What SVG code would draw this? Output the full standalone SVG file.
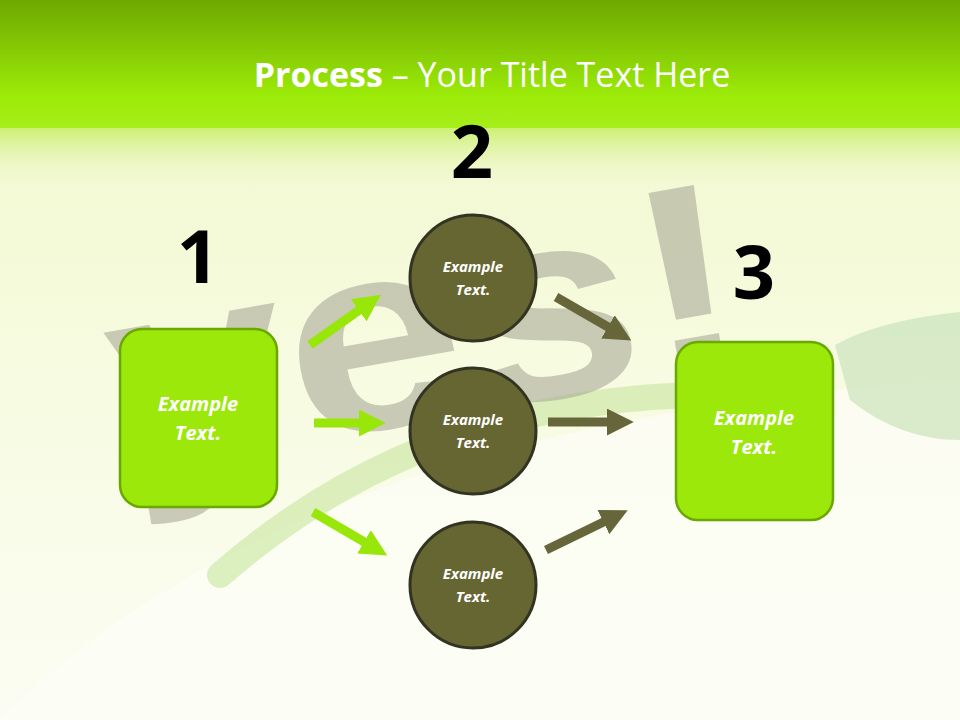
<svg xmlns="http://www.w3.org/2000/svg" width="960" height="720" viewBox="0 0 960 720">
<defs>
<linearGradient id="hdr" x1="0" y1="0" x2="0" y2="1"><stop offset="0" stop-color="#6ea800"/><stop offset="0.75" stop-color="#9ceb08"/><stop offset="1" stop-color="#a6ee1a"/></linearGradient>
<linearGradient id="bg" x1="0" y1="0" x2="0" y2="1"><stop offset="0" stop-color="#eef7c8"/><stop offset="0.5" stop-color="#f7fbe0"/><stop offset="1" stop-color="#fbfdf3"/></linearGradient>
<linearGradient id="band" x1="0" y1="0" x2="0" y2="1"><stop offset="0" stop-color="#c9ef6a"/><stop offset="1" stop-color="#eef7c8" stop-opacity="0"/></linearGradient>
<marker id="ag" viewBox="0 0 10 10" refX="6" refY="5" markerWidth="3" markerHeight="3" orient="auto"><path d="M0,0L10,5L0,10z" fill="#99e60a"/></marker>
<marker id="ad" viewBox="0 0 10 10" refX="6" refY="5" markerWidth="3" markerHeight="3" orient="auto"><path d="M0,0L10,5L0,10z" fill="#66663a"/></marker>
<style>
.box{fill:#9be80a;stroke:#6aa800;stroke-width:2.5}
.cir{fill:#666633;stroke:#333322;stroke-width:3}
.lt{font-family:"Open Sans","Liberation Sans",sans-serif;font-weight:bold;font-style:italic;fill:#fff;text-anchor:middle}
.num{font-family:"Open Sans","Liberation Sans",sans-serif;font-weight:bold;font-size:74px;fill:#000;text-anchor:middle}
.g{stroke:#99e60a;stroke-width:9;fill:none;marker-end:url(#ag)}
.d{stroke:#66663a;stroke-width:9;fill:none;marker-end:url(#ad)}
</style>
</defs>
<rect width="960" height="720" fill="url(#bg)"/>
<rect y="125" width="960" height="60" fill="url(#band)"/>
<path d="M0,720 Q300,420 960,380 L960,720z" fill="#fcfdf5" opacity="0.8"/>
<path d="M220,575 Q420,400 700,395" stroke="#cfe8a8" stroke-width="26" fill="none" stroke-linecap="round" opacity="0.7"/>
<path d="M835,345 Q880,320 960,312 L960,440 Q900,440 850,400z" fill="#cfe6c0" opacity="0.8"/>
<text x="100" y="420" textLength="640" lengthAdjust="spacingAndGlyphs" font-family="Liberation Sans,sans-serif" font-weight="bold" font-size="270" fill="#aaaa98" opacity="0.6" transform="rotate(-10 420 300)">yes!</text>
<rect width="960" height="128" fill="url(#hdr)"/>
<text x="492" y="87" font-family="Open Sans,Liberation Sans,sans-serif" font-size="34" fill="#fff" text-anchor="middle"><tspan font-weight="bold">Process</tspan> – Your Title Text Here</text>
<g id="connectors">
<path class="g" d="M310,345L372,301"/>
<path class="g" d="M314,423L375,423"/>
<path class="g" d="M313,512L378,550"/>
<path class="d" d="M556,297L622,335"/>
<path class="d" d="M548,422L623,422"/>
<path class="d" d="M546,550L618,515"/>
</g>
<g id="n1"><rect class="box" x="120" y="329" width="157" height="178" rx="22"/><text class="lt" font-size="20" x="198" y="411">Example</text><text class="lt" font-size="20" x="198" y="440">Text.</text></g>
<g id="n3"><rect class="box" x="676" y="342" width="157" height="178" rx="22"/><text class="lt" font-size="20" x="754" y="425">Example</text><text class="lt" font-size="20" x="754" y="454">Text.</text></g>
<g id="c1"><circle class="cir" cx="473" cy="278" r="63"/><text class="lt" font-size="15" x="473" y="272">Example</text><text class="lt" font-size="15" x="473" y="295">Text.</text></g>
<g id="c2"><circle class="cir" cx="473" cy="431" r="63"/><text class="lt" font-size="15" x="473" y="425">Example</text><text class="lt" font-size="15" x="473" y="448">Text.</text></g>
<g id="c3"><circle class="cir" cx="473" cy="585" r="63"/><text class="lt" font-size="15" x="473" y="579">Example</text><text class="lt" font-size="15" x="473" y="602">Text.</text></g>
<text class="num" x="198" y="283">1</text>
<text class="num" x="472" y="178">2</text>
<text class="num" x="754" y="299">3</text>
</svg>
